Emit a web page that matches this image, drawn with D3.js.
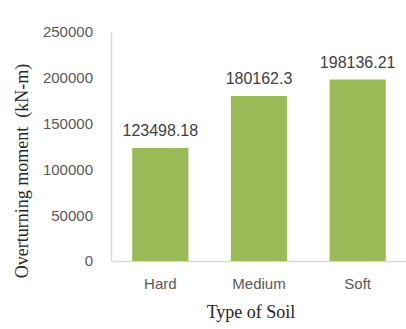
<!DOCTYPE html>
<meta charset='utf-8'>
<style>
  body { margin: 0; background: #fff; }
  .tick text { font-family: "Liberation Sans", Arial, sans-serif; fill: #595959; }
  .lbl { font-family: "Liberation Sans", Arial, sans-serif; fill: #404040; }
  .title { font-family: "Liberation Serif", "Times New Roman", serif; fill: #262626; white-space: pre; }
</style>
<svg width="406" height="329"></svg>
<script src="https://d3js.org/d3.v7.min.js"></script>
<script>

var soils = ["Hard", "Medium", "Soft"];
var moments = [123498.18, 180162.3, 198136.21];
var momentLabels = ["123498.18", "180162.3", "198136.21"];
var yTicks = [0, 50000, 100000, 150000, 200000, 250000];

var svg = d3.select("svg");

var x = d3.scaleBand()
  .domain(soils)
  .range([111, 407])
  .paddingInner(0.43)
  .paddingOuter(0.215);

var y = d3.scaleLinear()
  .domain([0, 250000])
  .range([261, 32]);

// y axis
var yAxis = svg.append("g")
  .attr("transform", "translate(111,0)")
  .call(d3.axisLeft(y).tickValues(yTicks).tickSize(0).tickPadding(18).tickFormat(d3.format("d")));
yAxis.select(".domain").attr("stroke", "#d9d9d9").attr("stroke-width", 1.5);
yAxis.selectAll("text").style("font-size", "15px");

// x axis
var xAxis = svg.append("g")
  .attr("transform", "translate(0,261)")
  .call(d3.axisBottom(x).tickSize(0).tickPadding(17));
xAxis.select(".domain").attr("stroke", "#d9d9d9").attr("stroke-width", 1.5);
xAxis.selectAll("text").style("font-size", "15px");

// bars
svg.append("g").selectAll("rect")
  .data(moments)
  .enter()
  .append("rect")
  .attr("x", function(d, i) { return x(soils[i]); })
  .attr("width", x.bandwidth())
  .attr("y", function(d) { return y(d); })
  .attr("height", function(d) { return 261 - y(d); })
  .attr("fill", "#9bbb59");

// value labels
svg.append("g").selectAll("text")
  .data(moments)
  .enter()
  .append("text")
  .attr("class", "lbl")
  .attr("x", function(d, i) { return x(soils[i]) + x.bandwidth() / 2; })
  .attr("y", function(d) { return y(d) - 12; })
  .attr("text-anchor", "middle")
  .style("font-size", "16px")
  .text(function(d, i) { return momentLabels[i]; });

// axis titles
svg.append("text")
  .attr("class", "title")
  .attr("transform", "translate(28,171) rotate(-90)")
  .attr("text-anchor", "middle")
  .style("font-size", "18px")
  .text("Overturning moment  (kN-m)");

svg.append("text")
  .attr("class", "title")
  .attr("x", 251)
  .attr("y", 318)
  .attr("text-anchor", "middle")
  .style("font-size", "18px")
  .text("Type of Soil");

</script>
